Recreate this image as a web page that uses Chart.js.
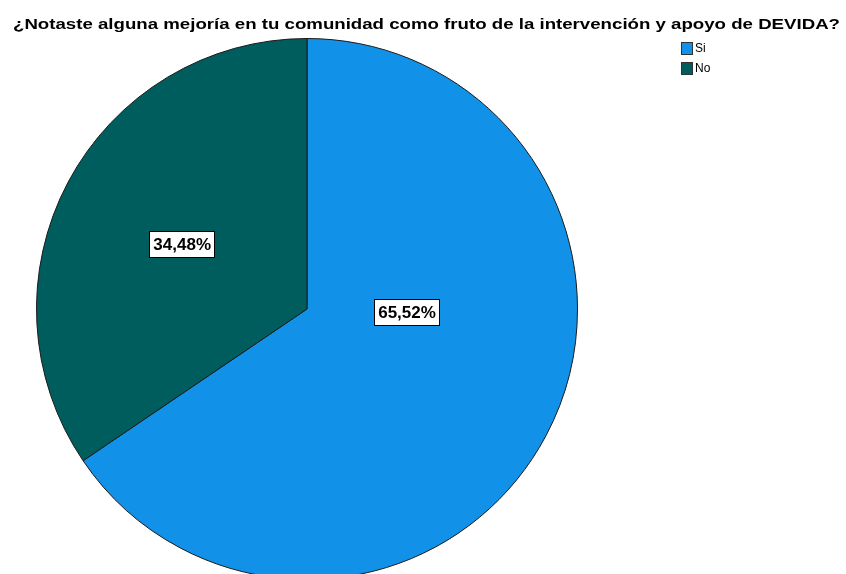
<!DOCTYPE html>
<html>
<head>
<meta charset="utf-8">
<script src="https://cdn.jsdelivr.net/npm/chart.js@4/dist/chart.umd.min.js"></script>
<style>
  html, body { margin: 0; padding: 0; background: #fff; overflow: hidden; }
  #wrap { width: 846px; height: 581px; position: relative; }
</style>
</head>
<body>
<div id="wrap"><canvas id="pie"></canvas></div>
<script>
// data
const titleText = "¿Notaste alguna mejoría en tu comunidad como fruto de la intervención y apoyo de DEVIDA?";
const categories = ["Si", "No"];
const percents = [65.52, 34.48];
const colors = ["#1192e8", "#005d5d"];
// where inside each slice the label box sits: [fraction along the slice angle, fraction of radius]
const labelSpots = [[0.389, 0.37], [0.496, 0.52]];

const FONT = "'Liberation Sans', Arial, sans-serif";

const titlePlugin = {
  id: "spssTitle",
  afterDraw(chart) {
    const ctx = chart.ctx;
    ctx.save();
    ctx.font = "bold 15px " + FONT;
    ctx.fillStyle = "#000";
    ctx.textBaseline = "alphabetic";
    ctx.textAlign = "left";
    const w = ctx.measureText(titleText).width;
    const target = 827;
    const sx = target / w;
    ctx.translate(13, 29);
    ctx.scale(sx, 1);
    ctx.fillText(titleText, 0, 0);
    ctx.restore();
  }
};

const legendPlugin = {
  id: "spssLegend",
  afterDraw(chart) {
    const ctx = chart.ctx;
    ctx.save();
    ctx.font = "12px " + FONT;
    ctx.textBaseline = "middle";
    categories.forEach((c, i) => {
      const y = 42 + i * 20;
      ctx.fillStyle = colors[i];
      ctx.fillRect(681, y, 12, 13);
      ctx.strokeStyle = "#333";
      ctx.lineWidth = 1;
      ctx.strokeRect(681.5, y + 0.5, 11, 12);
      ctx.fillStyle = "#000";
      ctx.fillText(c, 695, y + 7);
    });
    ctx.restore();
  }
};

const labelPlugin = {
  id: "sliceLabels",
  afterDatasetsDraw(chart) {
    const ctx = chart.ctx;
    const meta = chart.getDatasetMeta(0);
    ctx.save();
    ctx.font = "bold 17px " + FONT;
    ctx.textAlign = "center";
    ctx.textBaseline = "middle";
    meta.data.forEach((arc, i) => {
      const p = arc.getProps(["x", "y", "startAngle", "endAngle", "outerRadius"], true);
      const spot = labelSpots[i];
      const a = p.startAngle + (p.endAngle - p.startAngle) * spot[0];
      const r = p.outerRadius * spot[1];
      const x = p.x + Math.cos(a) * r;
      const y = p.y + Math.sin(a) * r;
      const txt = percents[i].toFixed(2).replace(".", ",") + "%";
      const w = ctx.measureText(txt).width + 8;
      const h = 27;
      ctx.fillStyle = "#fff";
      ctx.fillRect(Math.round(x - w / 2), Math.round(y - h / 2), Math.round(w), h);
      ctx.strokeStyle = "#000";
      ctx.lineWidth = 1;
      ctx.strokeRect(Math.round(x - w / 2) + 0.5, Math.round(y - h / 2) + 0.5, Math.round(w) - 1, h - 1);
      ctx.fillStyle = "#000";
      ctx.fillText(txt, x, y + 1);
    });
    ctx.restore();
  }
};

new Chart(document.getElementById("pie"), {
  type: "pie",
  data: {
    labels: categories,
    datasets: [{
      data: percents,
      backgroundColor: colors,
      borderColor: "#1a1a1a",
      borderWidth: 1
    }]
  },
  options: {
    responsive: true,
    maintainAspectRatio: false,
    animation: false,
    layout: { padding: { left: 36, right: 268, top: 38, bottom: 1 } },
    plugins: {
      legend: { display: false },
      tooltip: { enabled: false },
      title: { display: false }
    }
  },
  plugins: [titlePlugin, legendPlugin, labelPlugin]
});
</script>
</body>
</html>
